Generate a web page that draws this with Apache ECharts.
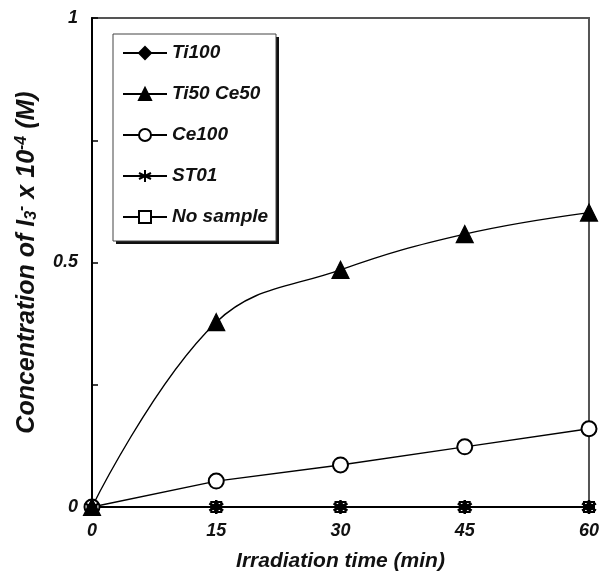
<!doctype html>
<html lang="en">
  <head>
    <meta charset="UTF-8" />
    <title>I3- concentration vs irradiation time</title>
    <script src="https://cdn.jsdelivr.net/npm/echarts@6/dist/echarts.min.js"></script>
    <style>
      * { margin: 0; padding: 0; }
      html, body, #chart { width: 602px; height: 585px; overflow: hidden; background: #fff; }
    </style>
  </head>
  <body>
    <div id="chart"></div>
    <script>
      // irradiation time (min)
      const times = [0, 15, 30, 45, 60];
      // concentration of I3- x 10^-4 (M)
      const ti100 = [0, 0, 0, 0, 0];
      const ti50ce50 = [0, 0.378, 0.485, 0.558, 0.602];
      const ce100 = [0, 0.053, 0.086, 0.123, 0.16];
      const st01 = [0, 0, 0, 0, 0];
      const noSample = [0, 0, 0, 0, 0];
      const yLabels = { 0: '0', 0.5: '0.5', 1: '1' };

      const font = '"Liberation Sans", Arial, sans-serif';
      const asterisk = 'path://M5,0 L5,10 M0.7,2.5 L9.3,7.5 M0.7,7.5 L9.3,2.5';
      const bi = { fontFamily: font, fontWeight: 'bold', fontStyle: 'italic', color: '#111' };

      const pairs = (ys) => times.map((t, i) => [t, ys[i]]);

      function makeSeries(name, ys, symbol, size, extra) {
        return Object.assign({
          name: name,
          type: 'line',
          data: pairs(ys),
          symbol: symbol,
          symbolSize: size,
          showAllSymbol: true,
          z: 3,
          lineStyle: { color: '#000', width: 1.4 },
          itemStyle: { color: '#000', borderColor: '#000', borderWidth: 1.2 },
          emphasis: { disabled: true },
          animation: false
        }, extra || {});
      }

      const chart = echarts.init(document.getElementById('chart'));
      chart.setOption({
        backgroundColor: '#fff',
        grid: {
          left: 92, right: 13, top: 18, bottom: 78,
          show: true, borderColor: '#555', borderWidth: 2
        },
        // legend frame with its drop shadow
        graphic: [
          { type: 'rect', z: 5, shape: { x: 116, y: 37, width: 163, height: 207 }, style: { fill: '#111' } },
          { type: 'rect', z: 6, shape: { x: 113, y: 34, width: 163, height: 207 }, style: { fill: '#fff', stroke: '#444', lineWidth: 1 } }
        ],
        legend: {
          orient: 'vertical',
          left: 113,
          top: 34,
          z: 10,
          padding: [9, 14, 16, 9],
          itemGap: 21,
          itemWidth: 44,
          itemHeight: 15,
          textStyle: Object.assign({ fontSize: 19, lineHeight: 20 }, bi),
          data: ['Ti100', 'Ti50 Ce50', 'Ce100', 'ST01', 'No sample']
        },
        xAxis: {
          type: 'value',
          min: 0, max: 60, interval: 15,
          name: 'Irradiation time (min)',
          nameLocation: 'middle',
          nameGap: 44,
          nameTextStyle: Object.assign({ fontSize: 21 }, bi),
          axisLine: { lineStyle: { color: '#000', width: 2 } },
          axisTick: { inside: true, length: 5, lineStyle: { color: '#000', width: 1.5 } },
          axisLabel: Object.assign({ margin: 15, fontSize: 18 }, bi),
          splitLine: { show: false }
        },
        yAxis: {
          type: 'value',
          min: 0, max: 1, interval: 0.25,
          name: '{n|Concentration of I}{sub|3}{sup|-}{n| x 10}{sup|-4}{n| (M)}',
          nameLocation: 'middle',
          nameRotate: 90,
          nameGap: 52,
          nameTextStyle: {
            rich: {
              n: Object.assign({ fontSize: 25 }, bi),
              sub: Object.assign({ fontSize: 16, verticalAlign: 'bottom', padding: [10, 0, 0, 0] }, bi),
              sup: Object.assign({ fontSize: 16, verticalAlign: 'top', padding: [0, 0, 10, 0] }, bi)
            }
          },
          axisLine: { lineStyle: { color: '#000', width: 2 } },
          axisTick: { inside: true, length: 6, lineStyle: { color: '#000', width: 1.5 } },
          axisLabel: Object.assign({
            margin: 14,
            fontSize: 18,
            formatter: (v) => (yLabels[v] !== undefined ? yLabels[v] : '')
          }, bi),
          splitLine: { show: false }
        },
        series: [
          makeSeries('No sample', noSample, 'emptyRect', 10),
          makeSeries('Ce100', ce100, 'emptyCircle', 15),
          makeSeries('Ti100', ti100, 'diamond', 10),
          makeSeries('ST01', st01, asterisk, 14, {
            itemStyle: { color: '#000', borderColor: '#000', borderWidth: 2.5 }
          }),
          makeSeries('Ti50 Ce50', ti50ce50, 'triangle', 17, { smooth: 0.4 })
        ]
      });
    </script>
  </body>
</html>
